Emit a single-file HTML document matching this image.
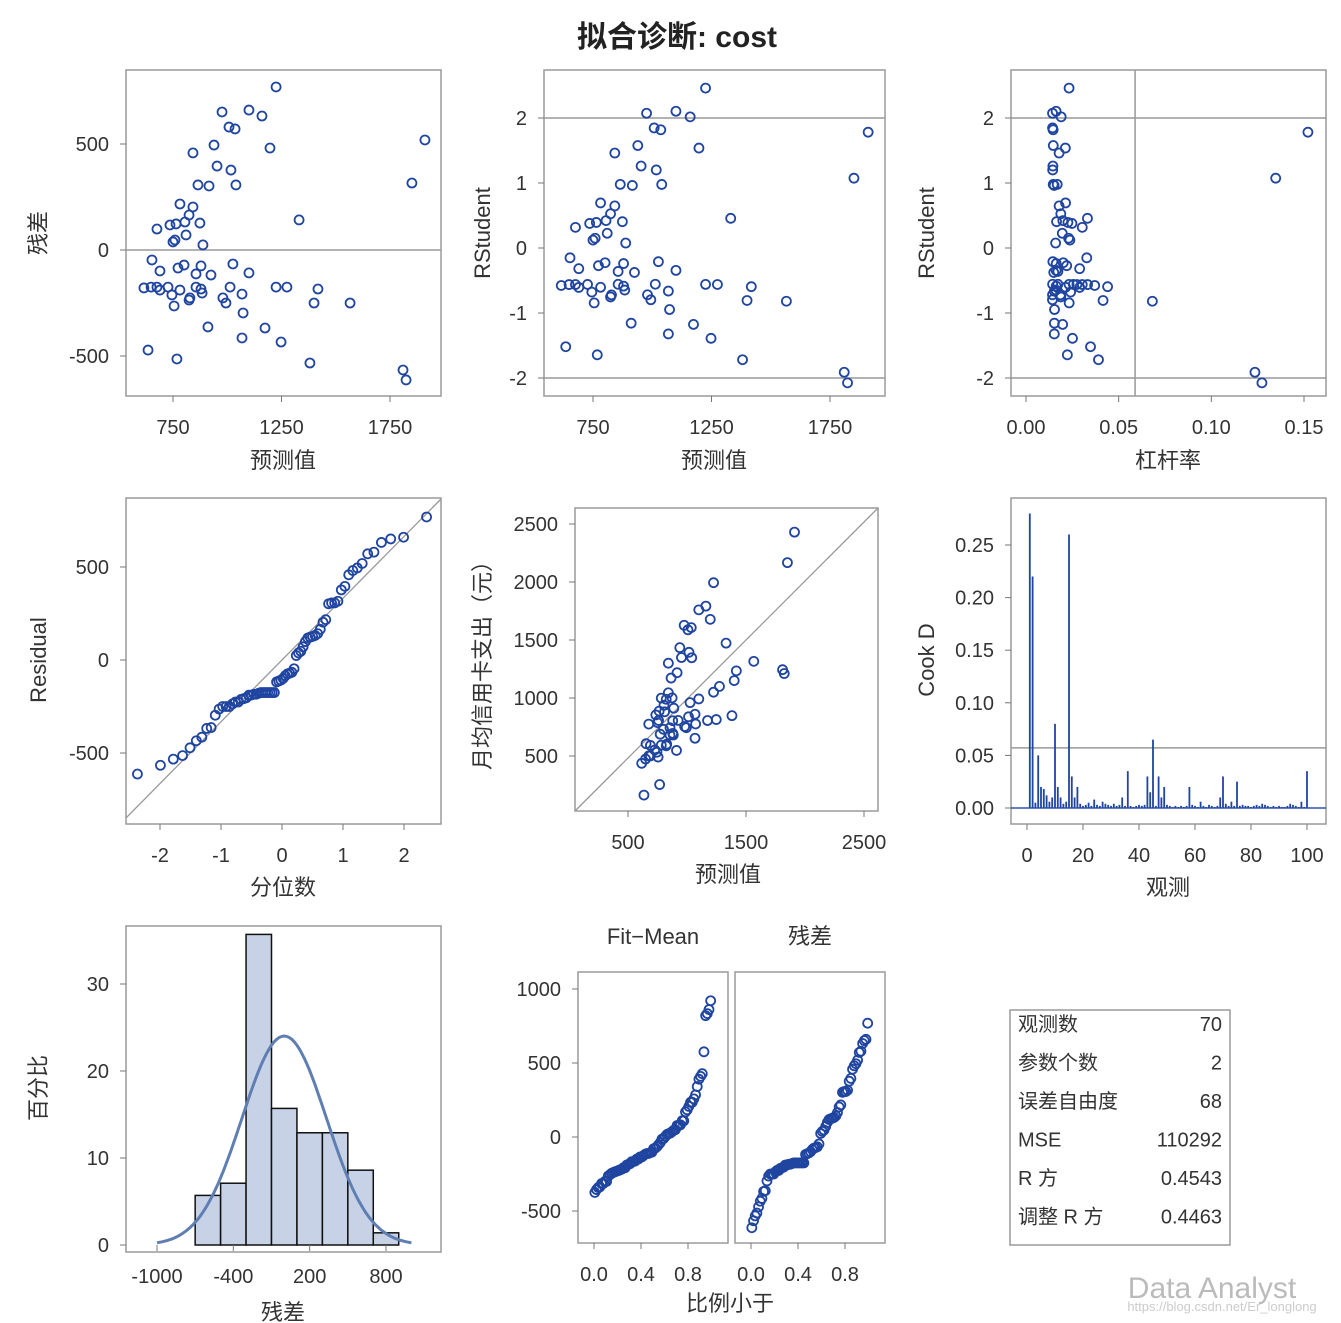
<!DOCTYPE html>
<html><head><meta charset="utf-8"><style>
html,body{margin:0;padding:0;background:#fff}
svg{display:block;font-family:"Liberation Sans","Noto Sans CJK SC",sans-serif}
</style></head><body>
<svg id="c" width="1341" height="1323" viewBox="0 0 1341 1323"></svg>
<script>
// ---- data ----
const predicted=[1225,976,1100,1160,1008,1036,939,1197,842,1911,953,1017,1851,865,916,1040,782,842,824,1331,805,874,764,736,676,810,759,888,750,653,1026,801,773,879,690,1100,925,616,649,676,727,856,879,1013,1225,1275,1418,745,828,884,824,1068,1566,1400,755,994,1073,911,1174,1068,1248,635,768,1381,1810,1824,690,980,782,856];
const residuals=[769,651,660,632,580,571,495,481,458,519,396,377,316,307,302,307,217,203,165,142,132,127,123,118,99,71,47,24,38,-47,-66,-71,-85,-75,-99,-108,-118,-179,-175,-175,-175,-175,-184,-175,-175,-175,-184,-212,-226,-203,-236,-208,-250,-250,-264,-250,-297,-363,-368,-415,-434,-472,-514,-533,-566,-613,-189,-226,-189,-113];
const cookD=[0.28,0.22,0.005,0.05,0.02,0.018,0.012,0.006,0.01,0.08,0.02,0.01,0.004,0.006,0.26,0.03,0.01,0.02,0.004,0.002,0.003,0.005,0.002,0.008,0.003,0.002,0.006,0.004,0.003,0.002,0.004,0.002,0.003,0.01,0.002,0.035,0.002,0.001,0.002,0.003,0.002,0.003,0.03,0.015,0.065,0.002,0.03,0.01,0.02,0.003,0.002,0.001,0.002,0.001,0.002,0.001,0.002,0.02,0.003,0.002,0.001,0.006,0.002,0.001,0.003,0.002,0.001,0.002,0.01,0.03,0.004,0.002,0.006,0.002,0.025,0.002,0.003,0.002,0.002,0.001,0.002,0.003,0.002,0.004,0.003,0.002,0.001,0.002,0.001,0.002,0.001,0.001,0.002,0.004,0.003,0.002,0.001,0.006,0.001,0.035];
const histMid=[-600,-400,-200,0,200,400,600,800];
const histPct=[5.7,7.1,35.7,15.7,12.9,12.9,8.6,1.4];
const statLabels=["观测数","参数个数","误差自由度","MSE","R 方","调整 R 方"];
const statValues=["70","2","68","110292","0.4543","0.4463"];
const MSE=110292;

const svg=document.getElementById('c');
const NS='http://www.w3.org/2000/svg';
const BLUE='#1f45a0';
function mk(tag,attrs,parent){const e=document.createElementNS(NS,tag);for(const k in attrs)e.setAttribute(k,attrs[k]);(parent||svg).appendChild(e);return e;}
function lin(d0,r0,d1,r1){const f=v=>r0+(v-d0)*(r1-r0)/(d1-d0);return f;}
function txt(x,y,s,size,anchor,rot,name,extra){
  const t=mk('text',Object.assign({x:x,y:y,'font-size':size,'text-anchor':anchor||'middle',fill:'#333'},extra||{}));
  if(rot)t.setAttribute('transform','rotate(-90 '+x+' '+y+')');
  t.textContent=s;
  
  
  return t;
}
function frame(x0,y0,x1,y1,name){
  const r=mk('rect',{x:x0,y:y0,width:x1-x0,height:y1-y0,fill:'none',stroke:'#9a9a9a','stroke-width':1.5});
  
  
}
function xticks(vals,labels,sx,y1,name){
  vals.forEach((v,i)=>{const x=sx(v);
    const l=mk('line',{x1:x,x2:x,y1:y1,y2:y1+6,stroke:'#777'});
    
    
    txt(x,y1+38,labels[i],20,'middle',false,name+'-label');});
}
function yticks(vals,labels,sy,x0,name){
  vals.forEach((v,i)=>{const y=sy(v);
    const l=mk('line',{x1:x0-6,x2:x0,y1:y,y2:y,stroke:'#777'});
    
    
    txt(x0-17,y+7,labels[i],20,'end',false,name+'-label');});
}
function hline(x0,x1,y,name){const l=mk('line',{x1:x0,x2:x1,y1:y,y2:y,stroke:'#999','stroke-width':1.5});
  
  }
function dot(x,y,name){const c=mk('circle',{cx:x,cy:y,r:4.5,fill:'none',stroke:BLUE,'stroke-width':1.8});
  
  }

const n=predicted.length;
const meanP=predicted.reduce((a,b)=>a+b,0)/n;
const Sxx=predicted.reduce((a,b)=>a+(b-meanP)*(b-meanP),0);
const lev=predicted.map(p=>1/n+(p-meanP)*(p-meanP)/Sxx);
const rstud=residuals.map((r,i)=>r/Math.sqrt(MSE*(1-lev[i]))*1.05);

txt(677,47,'拟合诊断: cost',30,'middle',false,'chart-title',{'font-weight':'bold',fill:'#222'});

// Panel 1
{const sx=lin(750,173,1750,390),sy=lin(0,250,500,144);
 frame(126,70,441,396,'residual-vs-predicted-frame');
 hline(126,441,sy(0),'zero-reference-line');
 predicted.forEach((p,i)=>dot(sx(p),sy(residuals[i]),'residual-point'));
 xticks([750,1250,1750],['750','1250','1750'],sx,396,'p1-x');
 yticks([500,0,-500],['500','0','-500'],sy,126,'p1-y');
 txt(283,468,'预测值',22,'middle',false,'p1-x-axis-title');
 txt(46,233,'残差',22,'middle',true,'p1-y-axis-title');}
// Panel 2
{const sx=lin(750,593,1750,830),sy=lin(0,248,1,183);
 frame(544,70,885,396,'rstudent-vs-predicted-frame');
 hline(544,885,sy(2),'upper-reference-line');hline(544,885,sy(-2),'lower-reference-line');
 predicted.forEach((p,i)=>dot(sx(p),sy(rstud[i]),'rstudent-point'));
 xticks([750,1250,1750],['750','1250','1750'],sx,396,'p2-x');
 yticks([2,1,0,-1,-2],['2','1','0','-1','-2'],sy,544,'p2-y');
 txt(714,468,'预测值',22,'middle',false,'p2-x-axis-title');
 txt(490,233,'RStudent',22,'middle',true,'p2-y-axis-title');}
// Panel 3
{const sx=lin(0,1026,0.15,1304),sy=lin(0,248,1,183);
 frame(1011,70,1326,396,'rstudent-vs-leverage-frame');
 hline(1011,1326,sy(2),'upper-reference-line');hline(1011,1326,sy(-2),'lower-reference-line');
 const vx=sx(4/n*1.03);const l=mk('line',{x1:vx,x2:vx,y1:70,y2:396,stroke:'#999','stroke-width':1.5});
 
 
 lev.forEach((h,i)=>dot(sx(h),sy(rstud[i]),'leverage-point'));
 xticks([0,0.05,0.1,0.15],['0.00','0.05','0.10','0.15'],sx,396,'p3-x');
 yticks([2,1,0,-1,-2],['2','1','0','-1','-2'],sy,1011,'p3-y');
 txt(1168,468,'杠杆率',22,'middle',false,'p3-x-axis-title');
 txt(934,233,'RStudent',22,'middle',true,'p3-y-axis-title');}
// Panel 4 QQ
function invN(p){const a=[-39.6968302866538,220.946098424521,-275.928510446969,138.357751867269,-30.6647980661472,2.50662827745924],b=[-54.4760987982241,161.585836858041,-155.698979859887,66.8013118877197,-13.2806815528857],c=[-0.00778489400243029,-0.322396458041136,-2.40075827716184,-2.54973253934373,4.37466414146497,2.93816398269878],d=[0.00778469570904146,0.32246712907004,2.445134137143,3.75440866190742];
 let q,r;if(p<0.02425){q=Math.sqrt(-2*Math.log(p));return(((((c[0]*q+c[1])*q+c[2])*q+c[3])*q+c[4])*q+c[5])/((((d[0]*q+d[1])*q+d[2])*q+d[3])*q+1);}
 if(p>1-0.02425){q=Math.sqrt(-2*Math.log(1-p));return-(((((c[0]*q+c[1])*q+c[2])*q+c[3])*q+c[4])*q+c[5])/((((d[0]*q+d[1])*q+d[2])*q+d[3])*q+1);}
 q=p-0.5;r=q*q;return(((((a[0]*r+a[1])*r+a[2])*r+a[3])*r+a[4])*r+a[5])*q/(((((b[0]*r+b[1])*r+b[2])*r+b[3])*r+b[4])*r+1);}
const sortedRes=residuals.slice().sort((a,b)=>a-b);
{const sx=lin(0,282,1,343),sy=lin(0,660,500,567);
 frame(126,498,441,824,'qq-plot-frame');
 const s=Math.sqrt(MSE);
 const l=mk('line',{x1:126,y1:sy(((126-282)/61)*s),x2:441,y2:sy(((441-282)/61)*s),stroke:'#999','stroke-width':1.3});
 
 
 sortedRes.forEach((r,i)=>dot(sx(invN((i+0.625)/(n+0.25))),sy(r),'qq-point'));
 xticks([-2,-1,0,1,2],['-2','-1','0','1','2'],sx,824,'p4-x');
 yticks([500,0,-500],['500','0','-500'],sy,126,'p4-y');
 txt(283,895,'分位数',22,'middle',false,'p4-x-axis-title');
 txt(46,660,'Residual',22,'middle',true,'p4-y-axis-title');}
// Panel 5
{const sx=lin(500,628,1500,746),sy=lin(500,756,1000,698);
 frame(575,508,878,811,'observed-vs-predicted-frame');
 const l=mk('line',{x1:575,y1:811,x2:878,y2:508,stroke:'#999','stroke-width':1.3});
 
 
 predicted.forEach((p,i)=>dot(sx(p),sy(p+residuals[i]),'observed-point'));
 xticks([500,1500,2500],['500','1500','2500'],sx,811,'p5-x');
 yticks([2500,2000,1500,1000,500],['2500','2000','1500','1000','500'],sy,575,'p5-y');
 txt(728,882,'预测值',22,'middle',false,'p5-x-axis-title');
 txt(490,660,'月均信用卡支出（元）',22,'middle',true,'p5-y-axis-title');}
// Panel 6 Cook D
{const sx=lin(0,1027,100,1307),sy=lin(0,808,0.25,545);
 frame(1011,498,1326,824,'cooks-d-frame');
 hline(1011,1326,sy(4/n),'cooks-cutoff-line');
 const base=mk('line',{x1:1011,x2:1326,y1:sy(0),y2:sy(0),stroke:'#2e55b0','stroke-width':1.5});
 
 
 cookD.forEach((v,i)=>{const x=sx(i+1);const l=mk('line',{x1:x,x2:x,y1:sy(0),y2:sy(v),stroke:'#1f45a0','stroke-width':1.8});
   
   });
 xticks([0,20,40,60,80,100],['0','20','40','60','80','100'],sx,824,'p6-x');
 yticks([0.25,0.2,0.15,0.1,0.05,0],['0.25','0.20','0.15','0.10','0.05','0.00'],sy,1011,'p6-y');
 txt(1168,895,'观测',22,'middle',false,'p6-x-axis-title');
 txt(934,660,'Cook D',22,'middle',true,'p6-y-axis-title');}
// Panel 7 histogram
{const sx=lin(-1000,157,800,386),sy=lin(0,1245,30,984);
 frame(126,926,441,1252,'histogram-frame');
 histMid.forEach((m,i)=>{const r=mk('rect',{x:sx(m-100),y:sy(histPct[i]),width:sx(m+100)-sx(m-100),height:sy(0)-sy(histPct[i]),fill:'#c7d2e6',stroke:'#111','stroke-width':1.5});
   
   });
 const s=Math.sqrt(MSE);let d='';
 for(let v=-1000;v<=1000;v+=20){const y=200*100/(s*Math.sqrt(2*Math.PI))*Math.exp(-v*v/(2*s*s));d+=(v===-1000?'M':'L')+sx(v).toFixed(1)+','+sy(y).toFixed(1);}
 const p=mk('path',{d:d,fill:'none',stroke:'#5f7fb3','stroke-width':3});
 
 
 xticks([-1000,-400,200,800],['-1000','-400','200','800'],sx,1245,'p7-x');
 yticks([30,20,10,0],['30','20','10','0'],sy,126,'p7-y');
 txt(283,1320,'残差',22,'middle',false,'p7-x-axis-title');
 txt(46,1088,'百分比',22,'middle',true,'p7-y-axis-title');}
// Panel 8 residual-fit spread
{const sy=lin(0,1137,500,1063);
 const sxl=lin(0,594,0.8,688),sxr=lin(0,751,0.8,845);
 frame(578,972,728,1243,'fit-mean-frame');frame(735,972,885,1243,'residual-spread-frame');
 const fit=predicted.map(p=>p-meanP).sort((a,b)=>a-b);
 fit.forEach((v,i)=>dot(sxl((i+0.5)/n),sy(v),'fit-mean-point'));
 sortedRes.forEach((v,i)=>dot(sxr((i+0.5)/n),sy(v),'residual-spread-point'));
 xticks([0,0.4,0.8],['0.0','0.4','0.8'],sxl,1243,'p8l-x');
 xticks([0,0.4,0.8],['0.0','0.4','0.8'],sxr,1243,'p8r-x');
 yticks([1000,500,0,-500],['1000','500','0','-500'],sy,578,'p8-y');
 txt(653,944,'Fit−Mean',22,'middle',false,'fit-mean-title');
 txt(810,944,'残差',22,'middle',false,'residual-title');
 txt(730,1311,'比例小于',22,'middle',false,'p8-x-axis-title');}
// Stats table
{frame(1010,1010,1230,1245,'stats-table-frame');
 statLabels.forEach((s,i)=>{const y=1031+i*38.5;
   txt(1018,y,s,20,'start',false,'stat-label');
   txt(1222,y,statValues[i],20,'end',false,'stat-value');});}
// watermark
txt(1212,1298,'Data Analyst',30,'middle',false,'watermark-text',{fill:'#bbb'});
txt(1222,1311,'https://blog.csdn.net/Er_longlong',13,'middle',false,'watermark-url',{fill:'#ccc'});
</script>
</body></html>
